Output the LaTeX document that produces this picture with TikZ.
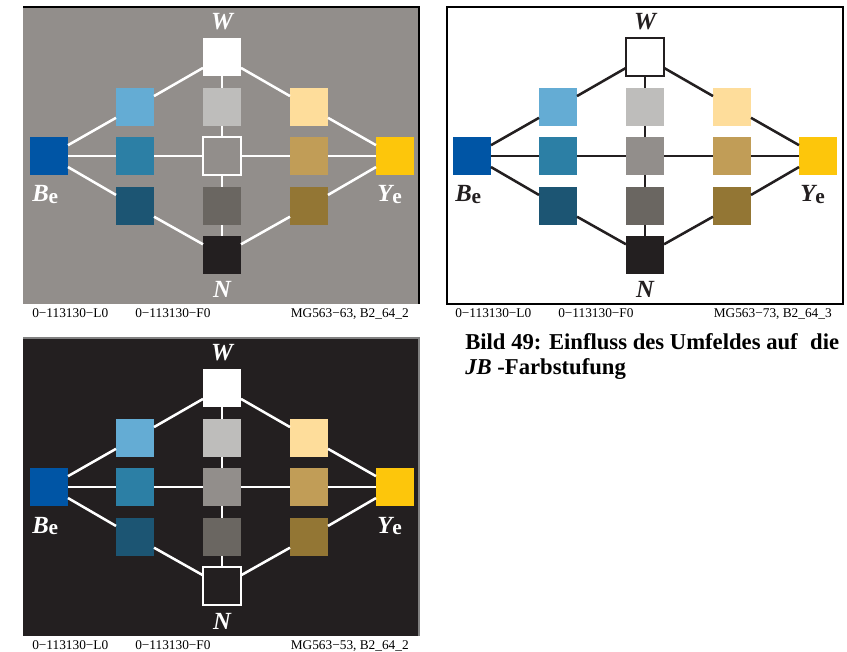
\documentclass[tikz,border=0pt]{standalone}
\usepackage{fontspec}
\setmainfont{Liberation Serif}
\definecolor{cBg}{RGB}{146,142,139}
\definecolor{cN}{RGB}{35,31,32}
\definecolor{cBe}{RGB}{0,85,165}
\definecolor{cLa}{RGB}{100,172,212}
\definecolor{cLb}{RGB}{44,127,165}
\definecolor{cLc}{RGB}{28,85,115}
\definecolor{cMa}{RGB}{190,189,187}
\definecolor{cMc}{RGB}{106,102,97}
\definecolor{cRa}{RGB}{254,221,155}
\definecolor{cRb}{RGB}{193,157,87}
\definecolor{cRc}{RGB}{147,118,52}
\definecolor{cYe}{RGB}{253,198,11}
\newcommand\jbsub{\raisebox{-1.5pt}{\upshape\fontsize{16}{18}\selectfont e}}
\newcommand\jbpanel[8]{%
 \begin{scope}[shift={(#1)}]
  \node[sq,fill=white,#4] (#2W) at (222,57) {};
  \node[sq,fill=cN,#6] (#2N) at (222,255) {};
  \node[sq,fill=cBe] (#2B) at (49,156) {};
  \node[sq,fill=cYe] (#2Y) at (395,156) {};
  \node[sq,fill=cLa] (#2L2) at (135,107) {};
  \node[sq,fill=cLb] (#2L3) at (135,156) {};
  \node[sq,fill=cLc] (#2L4) at (135,206) {};
  \node[sq,fill=cMa] (#2M2) at (222,107) {};
  \node[sq,fill=cBg,#5] (#2M3) at (222,156) {};
  \node[sq,fill=cMc] (#2M4) at (222,206) {};
  \node[sq,fill=cRa] (#2R2) at (309,107) {};
  \node[sq,fill=cRb] (#2R3) at (309,156) {};
  \node[sq,fill=cRc] (#2R4) at (309,206) {};
  \foreach \a/\b in {B/L2,B/L3,B/L4,L3/M3,M3/R3,R3/Y,Y/R2,Y/R4,W/L2,W/R2,W/M2,M2/M3,M3/M4,M4/N,N/L4,N/R4}
    \draw[conn=#3] (#2\a) -- (#2\b);
  \node[lbl,text=#7] (#2tW) at (222,30) {W};
  \node[lbl,text=#7] (#2tN) at (222,298) {N};
  \node[lbl,text=#7,anchor=base west] (#2tB) at (32,202) {B\jbsub};
  \node[lbl,text=#7,anchor=base west] (#2tY) at (377,202) {Y\jbsub};
  \node[foot] (#2f1) at (32,318) {0−113130−L0};
  \node[foot] (#2f2) at (135,318) {0−113130−F0};
  \node[foot,anchor=base east] (#2f3) at (409,318) {#8};
 \end{scope}}
\begin{document}
\begin{tikzpicture}[x=0.75pt,y=-0.75pt,
  sq/.style={rectangle,inner sep=0pt,outer sep=0pt,minimum width=28.5pt,minimum height=28.5pt},
  conn/.style={line width=1.9pt,draw=#1},
  lbl/.style={font=\fontsize{18.5}{20}\selectfont\bfseries\itshape,inner sep=0pt,anchor=base},
  foot/.style={font=\fontsize{10}{12}\selectfont,inner sep=0pt,anchor=base west},
  outl/.style={draw=#1,line width=1.3pt}]
\useasboundingbox (0,0) rectangle (847,652);
% panel backgrounds
\fill[cBg] (23,7) rectangle (419,304);
\draw[black,line width=0.8pt] (23,7) -- (419,7) -- (419,304);
\fill[white] (447,7) rectangle (843,304);
\draw[black,line width=1pt] (447,7) rectangle (843,304);
\fill[cN] (23,338) rectangle (419,636);
\draw[gray,line width=0.8pt] (23,338) -- (419,338) -- (419,636);
% panels
\jbpanel{0,0}{a}{white}{}{outl=white}{}{white}{MG563−63, B2\_64\_2}
\jbpanel{423,0}{b}{cN}{outl=cN}{}{}{cN}{MG563−73, B2\_64\_3}
\jbpanel{0,331}{c}{white}{}{}{outl=white}{white}{MG563−53, B2\_64\_2}
% caption
\node[anchor=base west,inner sep=0pt,font=\fontsize{17}{20}\selectfont\bfseries] (cap1) at (465,350) {Bild 49: Einfluss des Umfeldes auf\hspace{0.3em} die};
\node[anchor=base west,inner sep=0pt,font=\fontsize{17}{20}\selectfont\bfseries] (cap2) at (465,375) {\textit{JB} -Farbstufung};
\end{tikzpicture}
\end{document}
